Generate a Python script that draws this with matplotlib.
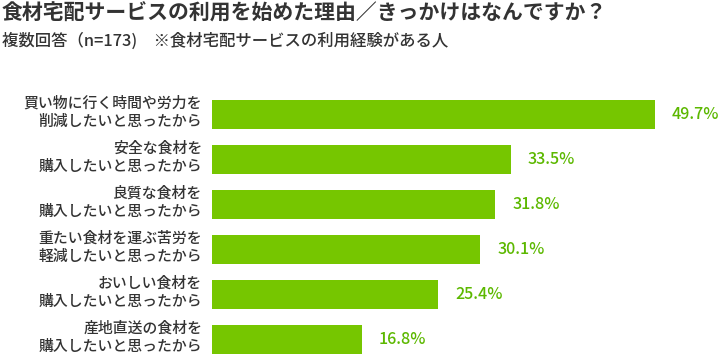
import matplotlib.pyplot as plt

plt.rcParams['font.family'] = ['Noto Sans CJK JP', 'DejaVu Sans']

labels = [
    '買い物に行く時間や労力を\n削減したいと思ったから',
    '安全な食材を\n購入したいと思ったから',
    '良質な食材を\n購入したいと思ったから',
    '重たい食材を運ぶ苦労を\n軽減したいと思ったから',
    'おいしい食材を\n購入したいと思ったから',
    '産地直送の食材を\n購入したいと思ったから',
]
values = [49.7, 33.5, 31.8, 30.1, 25.4, 16.8]

title = '食材宅配サービスの利用を始めた理由／きっかけはなんですか？'
subtitle = '複数回答（n=173)\u3000※食材宅配サービスの利用経験がある人'

bar_color = '#76C600'
text_green = '#5CB800'
label_color = '#333333'

fig = plt.figure(figsize=(7.2, 3.54), dpi=100)
fig.text(2 / 720, 1 - 13 / 354, title, fontsize=15, fontweight='bold', color='#333333', va='center', ha='left')
fig.text(2 / 720, 1 - 41 / 354, subtitle, fontsize=11.8, fontweight='medium', color='#333333', va='center', ha='left')

ax = fig.add_axes([212 / 720, 0, 508 / 720, (354 - 92) / 354])
ypos = list(range(len(values)))
ax.barh(ypos, values, height=0.65, color=bar_color, edgecolor='none')
for y, v, lab in zip(ypos, values, labels):
    ax.text(v + 1.9, y, f'{v}%', color=text_green, fontsize=11.6, fontweight='medium', va='center', ha='left')
    ax.text(-1.1, y - 0.04, lab, color=label_color, fontsize=10.7, fontweight='medium', va='center', ha='right', linespacing=1.1)

ax.set_xlim(0, 57)
ax.set_ylim(5.33, -0.5)
ax.axis('off')

fig.savefig('out.png', dpi=100)
